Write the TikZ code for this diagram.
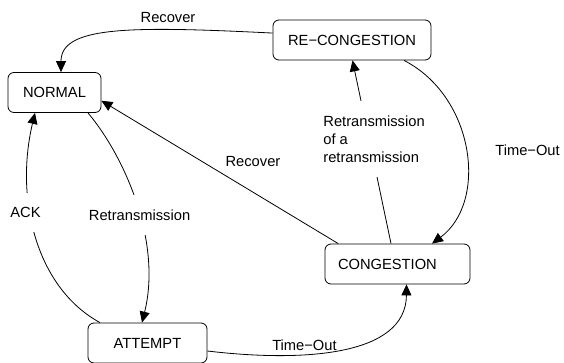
\documentclass[tikz,border=0pt]{standalone}
\usepackage{fontspec}
\setmainfont{Liberation Sans}
\usetikzlibrary{arrows.meta}

\begin{document}
\begin{tikzpicture}[x=1bp, y=1bp,
    every node/.style={font=\fontsize{14.7bp}{18bp}\selectfont},
    state/.style={draw, line width=0.8bp, rounded corners=6bp, minimum height=40bp, inner sep=0pt},
    trans/.style={draw, line width=0.8bp, -{Triangle[length=11bp, width=10bp]}},
    gap/.style={fill=white, inner xsep=2bp, inner ysep=14.5bp}]

    \useasboundingbox (0,0) rectangle (564,362);

    % States
    \node[state, minimum width=93bp] (normal) at (54.5,269.5) {NORMAL};
    \node[state, minimum width=158bp] (recong) at (352,322) {RE−CONGESTION};
    \node[state, text width=119bp, inner xsep=13bp, align=left] (cong) at (397.5,98) {CONGESTION};
    \node[state, minimum width=119bp] (attempt) at (147.5,19) {ATTEMPT};

    % Back to normal
    \draw[trans] (recong.175) .. controls (130,336) and (61,336) .. ([xshift=6.5bp]normal.north)
        node[pos=0.28, above, inner sep=7bp, xshift=-2bp] {Recover};
    \draw[trans] (cong.161) -- (normal.-10)
        node[pos=0.49, above right, inner sep=3bp, yshift=4bp] {Recover};
    \draw[trans] ([xshift=-47.5bp]attempt.north) .. controls (35,75) and (15,165) .. ([xshift=-19.5bp]normal.south)
        node[pos=0.6, gap, xshift=-5bp] {ACK};

    % Leaving normal
    \draw[trans] ([xshift=33.5bp]normal.south) .. controls (125,205) and (162,120) .. ([xshift=-5.5bp]attempt.north)
        node[pos=0.55, gap] {Retransmission};

    % Time-outs
    \draw[trans] ([yshift=-8bp]attempt.east) .. controls (300,0) and (406,5) .. ([xshift=9bp]cong.south)
        node[pos=0.35, above, inner sep=3bp] {Time−Out};
    \draw[trans] ([xshift=52bp]recong.south) .. controls (475,265) and (488,160) .. ([xshift=34.5bp]cong.north)
        node[pos=0.5, right=26bp] {Time−Out};

    % Congestion again
    \draw[trans] ([xshift=-6.5bp]cong.north) -- ([xshift=0.5bp]recong.south)
        node[pos=0.57, gap, align=left, xshift=5bp] {Retransmission\\of a\\retransmission};
\end{tikzpicture}
\end{document}
